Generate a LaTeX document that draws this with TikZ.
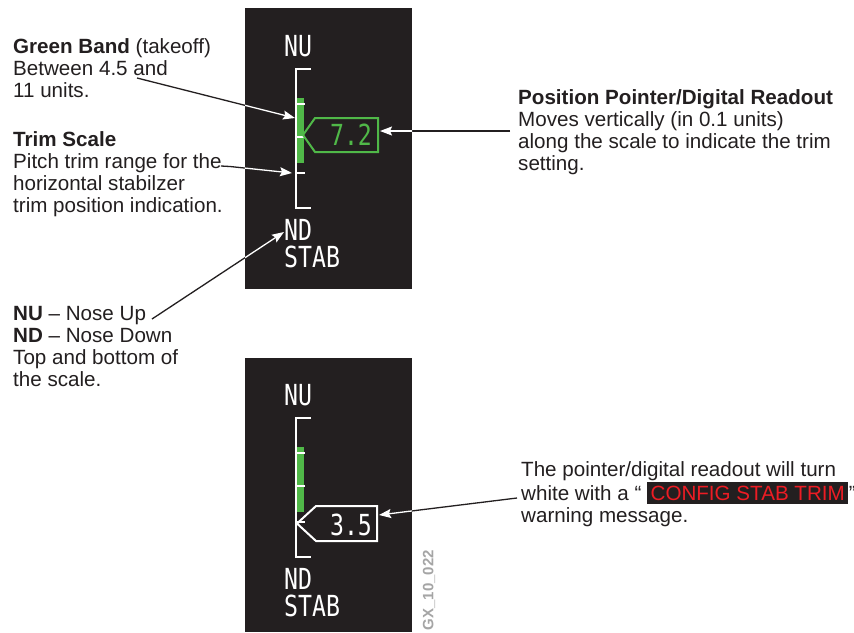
\documentclass[tikz,border=0pt]{standalone}
\usepackage{fontspec}
\setmainfont{Liberation Sans}
\newfontfamily\panelfont[FakeStretch=0.8]{DejaVu Sans Mono}
\usetikzlibrary{arrows.meta}
\definecolor{panel}{HTML}{231F20}
\definecolor{ink}{HTML}{231F20}
\definecolor{band}{RGB}{80,184,72}
\definecolor{warnred}{HTML}{ED1C24}
\definecolor{codegray}{RGB}{165,165,165}
\tikzset{
  lbl/.style={font=\fontsize{20.6}{22}\selectfont, text=ink, align=left, inner sep=0pt},
  ptext/.style={font=\panelfont\fontsize{29}{29}\selectfont, text=white, inner sep=0pt},
  scaleline/.style={draw=white, line width=2pt},
  conn/.style={line width=1.3pt, -{Stealth[length=12pt,width=9pt,inset=2pt]}},
}
\newcommand\scalepart{%
  \draw[scaleline] (311,69) -- (296,69) -- (296,208) -- (311,208);
  \fill[band] (297,98) rectangle (304,163);
  \draw[scaleline] (296,104) -- (305,104);
  \draw[scaleline] (296,137) -- (305,137);
  \draw[scaleline] (296,173) -- (305,173);
}
\newcommand\myarrows[1]{%
  \draw[conn,#1] (gbS) -- (gbE);
  \draw[conn,#1] (tsA) -- (tsB) -- (tsE);
  \draw[conn,#1] (nuS) -- (nuE);
  \draw[conn,#1] (ppS) -- (ppE);
  \draw[conn,#1] (wS) -- (wE);
}
\begin{document}
\begin{tikzpicture}[x=1pt,y=-1pt]
\useasboundingbox (0,0) rectangle (854,632);
\fill[white] (0,0) rectangle (854,632);
% panels
\fill[panel] (245,8) rectangle (412,289);
\fill[panel] (245,358) rectangle (412,632);
% top panel
\scalepart
\node[ptext, anchor=base west] (nu1) at (284,56) {NU};
\node[ptext, anchor=base west] (nd1) at (284,240) {ND};
\node[ptext, anchor=base west] (stab1) at (284,267) {STAB};
\draw[band, line width=2pt, line join=miter] (303,135) -- (315,118) -- (378,118) -- (378,152) -- (315,152) -- cycle;
\node[ptext, text=band, anchor=base] (ro1) at (351,145) {7.2};
% bottom panel
\begin{scope}[shift={(0,349)}]
\scalepart
\node[ptext, anchor=base west] (nu2) at (284,56) {NU};
\node[ptext, anchor=base west] (nd2) at (284,240) {ND};
\node[ptext, anchor=base west] (stab2) at (284,267) {STAB};
\end{scope}
\draw[white, line width=2pt, line join=miter] (297,523.5) -- (316,506) -- (377,506) -- (377,541) -- (316,541) -- cycle;
\node[ptext, anchor=base] (ro2) at (351,535) {3.5};
% labels (base anchor = baseline of last line)
\node[lbl, anchor=base west] (gb) at (13,97) {\textbf{Green Band} (takeoff)\\Between 4.5 and\\11 units.};
\node[lbl, anchor=base west] (ts) at (13,212) {\textbf{Trim Scale}\\Pitch trim range for the\\horizontal stabilzer\\trim position indication.};
\node[lbl, anchor=base west] (nund) at (13,386) {\textbf{NU} – Nose Up\\\textbf{ND} – Nose Down\\Top and bottom of\\the scale.};
\node[lbl, anchor=base west] (pp) at (518,170) {\textbf{Position Pointer/Digital Readout}\\Moves vertically (in 0.1 units)\\along the scale to indicate the trim\\setting.};
\node[lbl, anchor=base west] (wm) at (521,522) {The pointer/digital readout will turn\\white with a “ {\setlength\fboxsep{3.5pt}\colorbox{panel}{\textcolor{warnred}{CONFIG STAB TRIM}}}\hspace{0.5pt}”\\warning message.};
\node[rotate=90, font=\bfseries\fontsize{15}{15}\selectfont, text=codegray, inner sep=0pt] (gx) at (429,590) {GX\_10\_022};
% connector end points
\coordinate (gbS) at (137,78);
\coordinate (gbE) at (295,118);
\coordinate (tsA) at (221,166);
\coordinate (tsB) at (230,166.5);
\coordinate (tsE) at (292,173);
\coordinate (nuS) at (152,319);
\coordinate (nuE) at (284,232);
\coordinate (ppS) at (510,131);
\coordinate (ppE) at (380,131);
\coordinate (wS) at (517,498);
\coordinate (wE) at (379,515);
\myarrows{ink}
\begin{scope}
\clip (245,8) rectangle (412,289) (245,358) rectangle (412,632);
\myarrows{white}
\end{scope}
\end{tikzpicture}
\end{document}
